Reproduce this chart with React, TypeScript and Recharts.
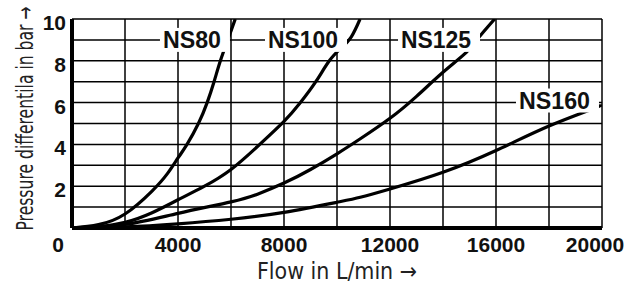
import {
  Label,
  Line,
  LineChart,
  ReferenceDot,
  ReferenceLine,
  XAxis,
  YAxis,
} from 'recharts'

// flow in L/min, pressure differential in bar
const flowNS80 = [0, 1000, 2000, 3000, 3600, 4000, 4340, 4770, 5100, 5360, 5600, 5880, 6160]
const dpNS80 = [0, 0.16, 0.67, 1.74, 2.6, 3.35, 4, 5, 6, 7, 8, 9, 10]

const flowNS100 = [0, 1000, 2000, 3000, 4000, 5000, 6000, 7000, 8000, 8620, 9200, 9710, 10150, 10540, 10870]
const dpNS100 = [0, 0.07, 0.27, 0.72, 1.35, 2.0, 2.8, 3.9, 5.1, 6.0, 7, 8, 8.6, 9.15, 10]

const flowNS125 = [0, 2000, 4000, 6000, 7000, 8000, 9000, 10000, 10880, 12000, 13000, 14000, 14880, 15310, 15950]
const dpNS125 = [0, 0.17, 0.7, 1.25, 1.62, 2.15, 2.8, 3.55, 4.27, 5.25, 6.3, 7.45, 8.4, 9.05, 10]

const flowNS160 = [0, 2000, 4000, 6000, 8000, 10000, 10880, 12000, 14000, 16000, 18000, 19670, 20000]
const dpNS160 = [0, 0.05, 0.2, 0.42, 0.75, 1.23, 1.47, 1.87, 2.67, 3.71, 4.88, 5.71, 5.92]

const xTicks = [0, 4000, 8000, 12000, 16000, 20000]
const yTicks = [2, 4, 6, 8, 10]
const xGrid = [2000, 4000, 6000, 8000, 10000, 12000, 14000, 16000, 18000, 20000]
const yGrid = [1, 2, 3, 4, 5, 6, 7, 8, 9, 10]

// where each curve name sits (flow, bar)
const tags = [
  { name: 'NS80', q: 4640, p: 9.0, w: 70, tw: 58 },
  { name: 'NS100', q: 8830, p: 9.0, w: 82, tw: 70 },
  { name: 'NS125', q: 13850, p: 9.0, w: 82, tw: 70 },
  { name: 'NS160', q: 18320, p: 6.1, w: 83, tw: 71 },
]

const zip = (qs: number[], ps: number[]) => qs.map((q, i) => ({ q, dp: ps[i] }))

const curves = [
  zip(flowNS80, dpNS80),
  zip(flowNS100, dpNS100),
  zip(flowNS125, dpNS125),
  zip(flowNS160, dpNS160),
]

const boldFont = "'Liberation Sans', Arial, sans-serif"
const lightFont = "'Liberation Sans Narrow', 'DejaVu Sans Condensed', sans-serif"

function XTick({ x, y, payload }: any) {
  const shift = payload.value === 0 ? -14 : payload.value === 20000 ? -7 : 0
  return (
    <text
      x={x + shift}
      y={y + 24}
      textAnchor="middle"
      fontFamily={boldFont}
      fontWeight="bold"
      fontSize={21}
      fill="#111"
    >
      {payload.value}
    </text>
  )
}

function YTick({ x, y, payload }: any) {
  return (
    <text
      x={x}
      y={y + 11}
      textAnchor="end"
      fontFamily={boldFont}
      fontWeight="bold"
      fontSize={21}
      fill="#111"
    >
      {payload.value}
    </text>
  )
}

function CurveTag({ cx, cy, name, w, tw }: any) {
  return (
    <g>
      <rect x={cx - w / 2} y={cy - 12} width={w} height={24} fill="#fff" />
      <text
        x={cx - 3}
        y={cy + 8.5}
        textAnchor="middle"
        fontFamily={boldFont}
        fontWeight="bold"
        fontSize={24}
        textLength={tw}
        lengthAdjust="spacingAndGlyphs"
        fill="#111"
      >
        {name}
      </text>
    </g>
  )
}

export default function App() {
  return (
    <div style={{ position: 'absolute', left: 0, top: 0, width: 642, height: 287, background: '#fff' }}>
      <LineChart width={642} height={287} margin={{ top: 19, right: 40, bottom: 0, left: 0 }}>
        <XAxis
          type="number"
          dataKey="q"
          domain={[0, 20000]}
          ticks={xTicks}
          height={59}
          tickLine={false}
          tickSize={0}
          tickMargin={0}
          axisLine={{ stroke: '#000', strokeWidth: 4 }}
          tick={<XTick />}
          allowDataOverflow
        >
          <Label
            content={({ viewBox }: any) => (
              <text
                x={viewBox.x + viewBox.width / 2}
                y={viewBox.y + 51}
                textAnchor="middle"
                fontFamily={lightFont}
                fontSize={23}
                textLength={160}
                lengthAdjust="spacingAndGlyphs"
                fill="#222"
              >
                Flow in L/min →
              </text>
            )}
          />
        </XAxis>
        <YAxis
          type="number"
          domain={[0, 10]}
          ticks={yTicks}
          width={72}
          tickLine={false}
          tickSize={0}
          tickMargin={6}
          axisLine={{ stroke: '#000', strokeWidth: 4 }}
          tick={<YTick />}
          allowDataOverflow
        >
          <Label
            content={({ viewBox }: any) => {
              const cx = viewBox.x + 33
              const cy = viewBox.y + viewBox.height / 2 - 5
              return (
                <text
                  x={cx}
                  y={cy}
                  transform={`rotate(-90 ${cx} ${cy})`}
                  textAnchor="middle"
                  fontFamily={lightFont}
                  fontSize={23}
                  textLength={224}
                  lengthAdjust="spacingAndGlyphs"
                  fill="#222"
                >
                  Pressure differentila in bar →
                </text>
              )
            }}
          />
        </YAxis>

        {yGrid.map((v) => (
          <ReferenceLine key={'h' + v} y={v} stroke="#000" strokeWidth={1.5} />
        ))}
        {xGrid.map((v) => (
          <ReferenceLine key={'v' + v} x={v} stroke="#000" strokeWidth={1.5} />
        ))}

        {curves.map((data, i) => (
          <Line
            key={i}
            data={data}
            dataKey="dp"
            type="natural"
            stroke="#000"
            strokeWidth={3.2}
            dot={false}
            activeDot={false}
            isAnimationActive={false}
          />
        ))}

        {tags.map((t) => (
          <ReferenceDot
            key={t.name}
            x={t.q}
            y={t.p}
            r={0}
            zIndex={1000}
            shape={(props: any) => <CurveTag {...props} name={t.name} w={t.w} tw={t.tw} />}
          />
        ))}
      </LineChart>
    </div>
  )
}
